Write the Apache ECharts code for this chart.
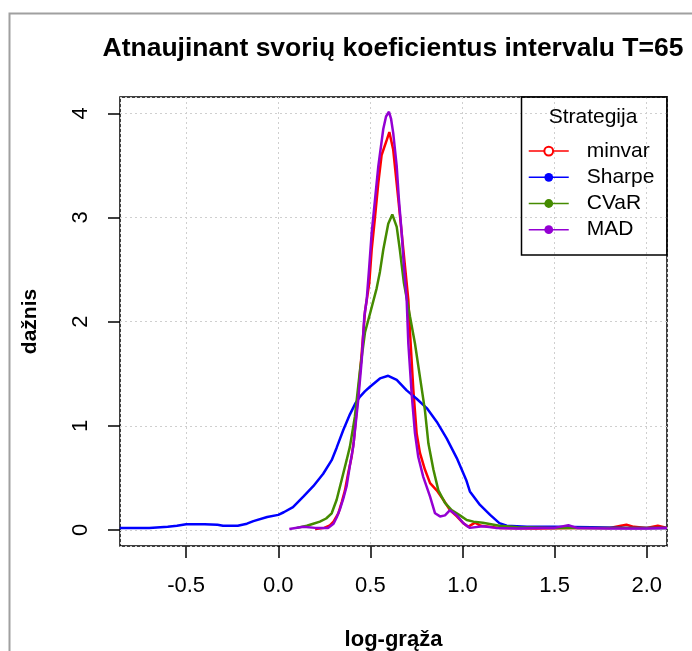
<!DOCTYPE html>
<html><head><meta charset="utf-8">
<script src="https://cdn.jsdelivr.net/npm/echarts@6/dist/echarts.min.js"></script>
<style>html,body{margin:0;padding:0;background:#fff}#c{width:692px;height:651px}</style>
</head><body><div id="c"></div>
<script>
const titleText = 'Atnaujinant svorių koeficientus intervalu T=65';
const xName = 'log-grąža';
const yName = 'dažnis';
const legendTitle = 'Strategija';
const xTicks = [-0.5, 0, 0.5, 1, 1.5, 2];
const yTicks = [0, 1, 2, 3, 4];
const seriesNames = ['minvar', 'Sharpe', 'CVaR', 'MAD'];
const seriesColors = ['#FF0000', '#0000FF', '#458B00', '#9400D3'];

const minvar = [[0.20,0.01],[0.25,0.02],[0.28,0.045],[0.30,0.08],[0.326,0.16],[0.345,0.27],[0.362,0.38],[0.38,0.55],[0.398,0.70],[0.41,0.85],[0.434,1.31],[0.453,1.70],[0.471,2.10],[0.494,2.37],[0.507,2.69],[0.525,3.00],[0.543,3.33],[0.561,3.60],[0.59,3.75],[0.603,3.82],[0.624,3.65],[0.652,3.17],[0.679,2.69],[0.706,2.21],[0.715,1.90],[0.733,1.35],[0.751,0.93],[0.769,0.74],[0.796,0.58],[0.824,0.45],[0.86,0.38],[0.896,0.29],[0.932,0.19],[0.969,0.13],[1.005,0.064],[1.03,0.03],[1.068,0.07],[1.10,0.04],[1.20,0.02],[1.40,0.015],[1.60,0.02],[1.80,0.02],[1.86,0.04],[1.89,0.05],[1.93,0.03],[2.00,0.02],[2.06,0.04],[2.11,0.02]];
const sharpe = [[-0.86,0.02],[-0.70,0.02],[-0.60,0.03],[-0.55,0.04],[-0.50,0.055],[-0.40,0.055],[-0.33,0.05],[-0.30,0.04],[-0.22,0.04],[-0.17,0.06],[-0.135,0.085],[-0.06,0.125],[0.0,0.145],[0.03,0.17],[0.08,0.22],[0.136,0.32],[0.19,0.42],[0.244,0.54],[0.29,0.67],[0.317,0.79],[0.353,0.96],[0.389,1.11],[0.42,1.22],[0.444,1.28],[0.47,1.33],[0.498,1.375],[0.552,1.455],[0.597,1.48],[0.643,1.44],[0.697,1.34],[0.751,1.26],[0.806,1.17],[0.86,1.04],[0.914,0.88],[0.969,0.69],[1.02,0.48],[1.04,0.37],[1.095,0.24],[1.15,0.145],[1.20,0.065],[1.24,0.04],[1.35,0.03],[1.50,0.03],[1.70,0.025],[1.90,0.02],[2.11,0.02]];
const cvar = [[0.10,0.02],[0.155,0.04],[0.19,0.06],[0.226,0.08],[0.26,0.11],[0.29,0.16],[0.317,0.29],[0.344,0.48],[0.371,0.67],[0.389,0.80],[0.416,1.09],[0.444,1.54],[0.471,1.90],[0.50,2.09],[0.534,2.32],[0.552,2.48],[0.57,2.69],[0.597,2.94],[0.619,3.03],[0.643,2.91],[0.66,2.69],[0.682,2.37],[0.715,2.05],[0.742,1.79],[0.769,1.47],[0.796,1.15],[0.815,0.83],[0.842,0.58],[0.869,0.38],[0.905,0.26],[0.941,0.19],[0.986,0.14],[1.023,0.096],[1.06,0.08],[1.11,0.07],[1.20,0.04],[1.30,0.025],[1.50,0.02],[1.80,0.02],[2.11,0.02]];
const mad = [[0.06,0.01],[0.136,0.03],[0.20,0.02],[0.27,0.02],[0.30,0.06],[0.317,0.12],[0.335,0.20],[0.353,0.30],[0.371,0.42],[0.389,0.62],[0.407,0.80],[0.434,1.25],[0.453,1.63],[0.467,2.05],[0.48,2.21],[0.494,2.53],[0.507,2.85],[0.525,3.17],[0.543,3.49],[0.57,3.85],[0.585,3.97],[0.601,4.015],[0.612,3.95],[0.624,3.81],[0.643,3.49],[0.655,3.17],[0.67,2.85],[0.682,2.53],[0.697,2.21],[0.706,1.79],[0.724,1.31],[0.742,0.93],[0.76,0.70],[0.787,0.51],[0.824,0.32],[0.851,0.16],[0.878,0.13],[0.905,0.14],[0.932,0.19],[0.969,0.14],[1.005,0.064],[1.04,0.02],[1.11,0.035],[1.18,0.02],[1.30,0.015],[1.45,0.02],[1.50,0.02],[1.575,0.045],[1.62,0.02],[1.80,0.015],[2.00,0.015],[2.11,0.02]];
const seriesData = [minvar, sharpe, cvar, mad];
const seriesSymbols = ['emptyCircle', 'circle', 'circle', 'circle'];

const X_MIN = -0.859, X_MAX = 2.110, Y_MIN = -0.154, Y_MAX = 4.157;
const GRID = {left: 120, top: 97, width: 547, height: 449};
const FONT = 'Liberation Sans, Arial, sans-serif';
const TICK = 12;

const graphicEls = [
  {id: 'frame', type: 'rect', silent: true, z: 100, shape: {x: 9.5, y: 13.5, width: 800, height: 800}, style: {fill: 'transparent', stroke: '#a0a0a0', lineWidth: 2}},
  {id: 'legbox', type: 'rect', silent: true, z: 100, shape: {x: 521.5, y: 97, width: 145.5, height: 158}, style: {fill: 'transparent', stroke: '#000', lineWidth: 1.5}},
  {id: 'legtitle', type: 'text', silent: true, z: 100, x: 593, y: 117, style: {text: legendTitle, fontFamily: FONT, fontSize: 21, fill: '#000', align: 'center', verticalAlign: 'middle'}}
];

const chart = echarts.init(document.getElementById('c'), null, {renderer: 'canvas'});
const option = {
  animation: false,
  title: {
    text: titleText, left: 388, top: 30, textAlign: 'center',
    textStyle: {fontFamily: FONT, fontSize: 26.5, fontWeight: 'bold', color: '#000'}
  },
  grid: [
    Object.assign({show: true, borderColor: '#000', borderWidth: 1.5, containLabel: false, outerBoundsMode: 'none'}, GRID),
    Object.assign({show: false, containLabel: false, outerBoundsMode: 'none'}, GRID)
  ],
  xAxis: [{
    gridIndex: 0, type: 'value', min: X_MIN, max: X_MAX,
    name: xName, nameLocation: 'middle', nameGap: 83,
    nameTextStyle: {fontFamily: FONT, fontSize: 22, fontWeight: 'bold', color: '#000'},
    axisLine: {show: false, onZero: false},
    axisTick: {show: false},
    axisLabel: {customValues: xTicks, margin: 29, fontFamily: FONT, fontSize: 22, color: '#000', formatter: v => v.toFixed(1)},
    splitLine: {show: true, lineStyle: {color: '#cfcfcf', type: [2, 3], width: 1}}
  }, {
    gridIndex: 1, type: 'value', min: X_MIN, max: X_MAX,
    axisLine: {show: false, onZero: false},
    axisTick: {show: true, inside: false, length: TICK, customValues: xTicks, lineStyle: {color: '#000', width: 1.5}},
    axisLabel: {customValues: xTicks, formatter: () => ''},
    splitLine: {show: false}
  }],
  yAxis: [{
    gridIndex: 0, type: 'value', min: Y_MIN, max: Y_MAX,
    name: yName, nameLocation: 'middle', nameGap: 79,
    nameTextStyle: {fontFamily: FONT, fontSize: 21, fontWeight: 'bold', color: '#000'},
    axisLine: {show: false, onZero: false},
    axisTick: {show: false},
    axisLabel: {customValues: yTicks, margin: 28, rotate: 90, fontFamily: FONT, fontSize: 22, color: '#000', formatter: v => String(v)},
    splitLine: {show: true, lineStyle: {color: '#cfcfcf', type: [2, 3], width: 1}}
  }, {
    gridIndex: 1, type: 'value', min: Y_MIN, max: Y_MAX,
    axisLine: {show: false, onZero: false},
    axisTick: {show: true, inside: false, length: TICK, customValues: yTicks, lineStyle: {color: '#000', width: 1.5}},
    axisLabel: {customValues: yTicks, formatter: () => ''},
    splitLine: {show: false}
  }],
  legend: {
    data: seriesNames, orient: 'vertical', left: 528, top: 138, padding: 0,
    itemWidth: 40, itemHeight: 11, itemGap: 0, selectedMode: false,
    lineStyle: {width: 1.5},
    textStyle: {fontFamily: FONT, fontSize: 21, lineHeight: 26.2, color: '#000', padding: [0, 0, 0, 13]}
  },
  graphic: graphicEls,
  series: seriesNames.map((n, i) => ({
    name: n, type: 'line', xAxisIndex: 0, yAxisIndex: 0, data: seriesData[i], showSymbol: false, symbol: seriesSymbols[i], symbolSize: 9,
    color: seriesColors[i], lineStyle: {color: seriesColors[i], width: 2.5}, itemStyle: {color: seriesColors[i]},
    z: 2 + i, silent: true, smooth: false
  })).concat([{
    type: 'line', xAxisIndex: 1, yAxisIndex: 1, data: [], silent: true, showSymbol: false
  }])
};
chart.setOption(option);
</script></body></html>
